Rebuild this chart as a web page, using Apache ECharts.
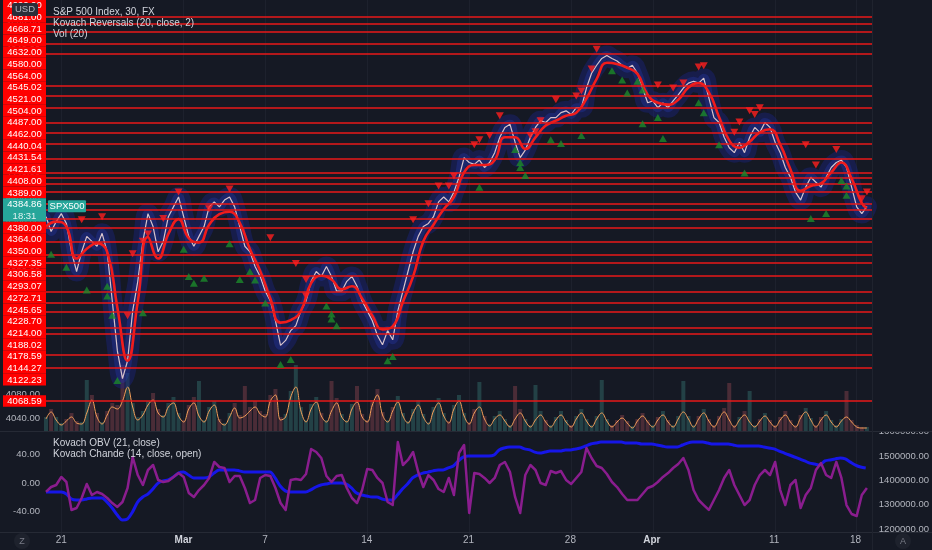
<!DOCTYPE html>
<html><head><meta charset="utf-8">
<script src="https://cdn.jsdelivr.net/npm/echarts@6/dist/echarts.min.js"></script>
<style>html,body{margin:0;padding:0;background:#151924;}#c{width:932px;height:550px;}</style>
</head><body><div id="c"></div>
<script>
// ---------- data ----------
const tradingDays = ['2022-02-18','2022-02-21','2022-02-22','2022-02-23','2022-02-24','2022-02-25',
  '2022-02-28','2022-03-01','2022-03-02','2022-03-03','2022-03-04',
  '2022-03-07','2022-03-08','2022-03-09','2022-03-10','2022-03-11',
  '2022-03-14','2022-03-15','2022-03-16','2022-03-17','2022-03-18',
  '2022-03-21','2022-03-22','2022-03-23','2022-03-24','2022-03-25',
  '2022-03-28','2022-03-29','2022-03-30','2022-03-31','2022-04-01',
  '2022-04-04','2022-04-05','2022-04-06','2022-04-07','2022-04-08',
  '2022-04-11','2022-04-12','2022-04-13','2022-04-14','2022-04-18'];
const slots = ['00:00','06:00','12:00','18:00'];
const tickDates = ['2022-02-21 00:00','2022-03-01 00:00','2022-03-07 00:00','2022-03-14 00:00','2022-03-21 00:00','2022-03-28 00:00','2022-04-01 00:00','2022-04-11 00:00','2022-04-18 00:00'];
const tickTexts = ['21','Mar','7','14','21','28','Apr','11','18'];
const monthTexts = ['Mar','Apr'];

const price = [
4368,4344,4360,4373,4357,4311,4279,4311,4336,4328,
4320,4341,4311,4231,4150,4105,4134,4215,4263,4328,
4373,4352,4311,4328,4368,4384,4400,4368,4336,4320,
4336,4352,4384,4392,4384,4395,4400,4384,4352,4320,
4311,4287,4271,4247,4231,4199,4159,4167,4183,4191,
4215,4231,4263,4279,4271,4287,4271,4247,4247,4263,
4271,4255,4231,4215,4199,4175,4160,4183,4168,4215,
4247,4279,4311,4336,4352,4357,4368,4392,4400,4392,
4408,4432,4464,4456,4453,4460,4448,4456,4472,4497,
4513,4518,4489,4464,4476,4497,4513,4524,4521,4529,
4529,4537,4540,4534,4545,4545,4577,4601,4614,4625,
4630,4625,4621,4614,4609,4614,4601,4577,4553,4556,
4545,4553,4545,4556,4566,4577,4585,4588,4585,4593,
4561,4529,4521,4497,4480,4472,4489,4472,4497,4513,
4505,4521,4513,4489,4472,4448,4432,4408,4395,4416,
4432,4424,4416,4432,4448,4456,4460,4448,4416,4384,
4373,4384.86,null];

// Kovach Reversals line: [bar index, value]
const reversalLine = [[0,4352],[2,4360],[4,4352],[6,4300],[8,4316],[10,4325],[12,4311],[14,4220],[16,4134],
  [18,4230],[20,4335],[22,4300],[24,4340],[26,4364],[28,4333],[30,4326],[32,4355],[34,4372],[36,4376],
  [38,4358],[40,4315],[42,4280],[44,4235],[46,4196],[48,4200],[50,4215],[52,4260],[54,4272],[56,4266],
  [58,4250],[60,4255],[62,4235],[64,4207],[66,4185],[68,4190],[70,4230],[72,4271],[74,4328],[76,4355],
  [78,4380],[80,4400],[82,4440],[84,4452],[86,4452],[88,4460],[90,4497],[92,4497],[94,4478],[96,4497],
  [98,4516],[100,4524],[102,4532],[104,4537],[106,4560],[108,4592],[110,4618],[112,4616],[114,4610],
  [116,4600],[118,4566],[120,4553],[122,4550],[124,4558],[126,4578],[128,4585],[130,4570],[132,4530],
  [134,4492],[136,4480],[138,4490],[140,4505],[142,4510],[144,4485],[146,4445],[148,4410],[150,4418],
  [152,4422],[154,4440],[156,4456],[158,4430],[160,4390],[161,4382]];

const sellSignals = [[7,4363],[11,4368],[16,4207],[17,4308],[19,4328],[20,4340],[23,4365],[26,4408],[32,4381],
  [36,4413],[44,4334],[49,4292],[51,4266],[51,4239],[72,4363],[75,4389],[77,4418],[79,4418],[80,4434],[84,4485],
  [85,4493],[87,4500],[89,4532],[95,4500],[96,4506],[97,4524],[100,4558],[104,4564],[105,4572],[107,4608],
  [108,4640],[120,4582],[123,4577],[125,4585],[128,4611],[129,4613],[135,4505],[136,4522],[138,4540],
  [139,4534],[140,4545],[149,4485],[151,4452],[155,4477],[160,4397],[161,4408]];
const buySignals = [[1,4307],[4,4286],[8,4249],[12,4255],[12,4239],[13,4208],[14,4102],[19,4212],[27,4315],
  [28,4271],[29,4260],[31,4268],[36,4324],[38,4266],[40,4279],[41,4265],[43,4228],[46,4128],[48,4136],
  [55,4223],[56,4210],[56,4202],[57,4191],[67,4134],[68,4141],[85,4416],[92,4477],[93,4456],[93,4448],
  [94,4435],[99,4493],[101,4487],[105,4500],[111,4605],[113,4590],[114,4569],[116,4588],[117,4574],
  [117,4519],[120,4529],[121,4495],[128,4553],[129,4537],[132,4485],[137,4439],[150,4365],[153,4373],
  [156,4427],[157,4418],[157,4403]];

const volume = [
14,22,14,8,12,18,10,9,51,36,
18,9,20,28,26,66,58,28,14,20,
30,38,22,16,28,34,18,11,26,34,
50,11,24,30,12,8,18,28,16,45,
24,30,20,17,36,42,14,17,40,66,
24,11,27,34,18,11,50,33,17,11,
27,45,17,11,31,42,19,11,24,35,
18,10,22,31,17,9,24,33,18,10,
26,36,18,9,22,49,15,7,15,20,
12,6,45,22,12,6,46,20,11,6,
14,20,11,6,15,22,12,6,15,51,
12,6,11,16,10,5,12,18,11,6,
14,20,11,6,15,50,15,6,15,22,
12,6,15,23,48,6,14,20,40,6,
12,18,11,6,14,20,11,6,16,23,
13,6,14,20,11,6,12,40,11,6,
4,4,null];
const volumeMA = [
12,19,11,6,10,14,8,7,18,31,
14,7,16,24,22,30,44,24,11,16,
26,31,18,14,24,28,15,9,22,28,
15,9,20,26,10,6,14,23,13,15,
20,24,17,14,30,36,11,14,34,44,
20,9,22,29,15,9,20,28,14,9,
22,29,14,9,26,36,16,9,20,29,
15,8,18,26,14,7,20,28,15,8,
22,30,15,7,18,24,12,5,12,16,
10,4,12,18,10,4,11,16,9,4,
11,16,9,4,12,18,10,4,12,18,
10,4,9,13,8,3,10,15,9,4,
11,16,9,4,12,19,12,4,12,18,
10,4,12,19,11,4,11,16,9,4,
10,15,9,4,11,16,9,4,13,19,
11,4,11,16,9,4,10,14,9,4,
3,3,null];

const chande = [
-12.5,-5.6,-2.8,8.4,1.4,-37.6,-34.8,-20.9,-1.4,-16.7,
-12.5,-15.3,-20.9,-27.9,-33.4,-26.5,-7,36.2,11.1,-2.8,
18.1,25.1,4.2,1.4,2.8,8.4,13.9,8.4,-13.9,-19.5,
-9.8,-2.8,7,29.3,22.3,20.9,1.4,9.8,9.8,-7,
-27.9,-23.7,7,11.1,9.8,-7,-27.9,-37.6,4.2,5.6,
4.2,12.5,47.4,43.2,34.8,9.8,1.4,9.8,11.1,-7,
-20.9,-27.9,-9.8,19.5,18.1,7,0,-26.5,-30.7,57.1,
25.1,32.1,43.2,15.3,-5.6,11.1,4.2,-8.4,-12.5,7,
-16.7,41.8,53,-41.8,13.9,12.5,7,0,7,25.1,
29.3,15.3,-19.5,-41.8,11.1,25.1,18.1,0,-2.8,16.7,
13.9,16.7,4.2,-1.4,7,15.3,48.8,34.8,23.7,20.9,
12.5,1.4,-5.6,-15.3,-23.7,-23.7,-23.7,-15.3,-7,-4.2,
1.4,8.4,13.9,20.9,26.5,34.8,18.1,-9.8,-23.7,-30.7,
-37.6,-23.7,-9.8,7,18.1,-2.8,-16.7,-30.7,-23.7,-2.8,
11.1,18.1,11.1,29.3,-9.8,-30.7,-2.8,4.2,-34.8,-16.7,
-7,18.1,27.9,11.1,7,29.3,7,-30.7,-43.2,-46,
-16.7,-7,null];
const obv = [
1352000,1352000,1352000,1352000,1344000,1324000,1320000,1320000,1324000,1328000,
1328000,1328000,1311000,1287000,1258000,1238000,1242000,1271000,1311000,1332000,
1344000,1365000,1389000,1398000,1402000,1414000,1430000,1434000,1422000,1410000,
1410000,1410000,1414000,1430000,1443000,1443000,1443000,1443000,1439000,1434000,
1434000,1434000,1434000,1434000,1434000,1410000,1377000,1357000,1352000,1352000,
1352000,1352000,1361000,1373000,1381000,1385000,1389000,1389000,1389000,1385000,
1369000,1348000,1340000,1336000,1332000,1332000,1324000,1320000,1320000,1340000,
1365000,1385000,1410000,1422000,1430000,1434000,1439000,1443000,1443000,1451000,
1459000,1480000,1496000,1500000,1500000,1500000,1500000,1500000,1504000,1525000,
1533000,1537000,1537000,1537000,1529000,1525000,1516000,1512000,1516000,1520000,
1520000,1520000,1525000,1525000,1529000,1533000,1541000,1549000,1553000,1557000,
1557000,1557000,1557000,1557000,1553000,1553000,1553000,1549000,1549000,1549000,
1545000,1541000,1537000,1537000,1537000,1545000,1553000,1557000,1557000,1557000,
1553000,1549000,1549000,1549000,1549000,1545000,1541000,1541000,1541000,1541000,
1541000,1537000,1533000,1529000,1520000,1512000,1504000,1496000,1488000,1480000,
1471000,1467000,1463000,1480000,1484000,1488000,1492000,1488000,1475000,1463000,
1455000,1451000,null];

const levels = [4692.00,4681.00,4668.71,4649.00,4632.00,4580.00,4564.00,4545.02,4521.00,4504.00,4487.00,
  4462.00,4440.04,4431.54,4421.61,4408.00,4389.00,4380.00,4364.00,4350.00,4327.35,4306.58,4293.07,
  4272.71,4245.65,4228.70,4214.00,4188.02,4178.59,4144.27,4122.23,4068.59];
const lastPrice = 4384.86;
const lastCountdown = '18:31';
const symbolName = 'SPX500';
const currency = 'USD';
const legendTop = ['S&P 500 Index, 30, FX','Kovach Reversals (20, close, 2)','Vol (20)'];
const legendBottom = ['Kovach OBV (21, close)','Kovach Chande (14, close, open)'];

// ---------- build ----------
const categories = [];
tradingDays.forEach((d, di) => slots.forEach((s, si) => { if (di === 0 && si === 0) return; categories.push(d + ' ' + s); }));

const BG = '#151924';
const TXT = '#b2b5be';
const FONT = '"Liberation Sans", Arial, sans-serif';
const chart = echarts.init(document.getElementById('c'));
const L = 46, R = 60;
const isTick = (idx, val) => tickDates.indexOf(val) >= 0;
function xAx(i, extra) {
  return Object.assign({ type: 'category', gridIndex: i, data: categories, boundaryGap: false,
    axisLine: { show: false }, axisTick: { show: false }, axisLabel: { show: false }, splitLine: { show: false } }, extra || {});
}
const vsplit = { show: true, interval: isTick, lineStyle: { color: '#1d212d', width: 1 } };
const volColors = volume.map((v, i) => (i > 0 && price[i] != null && price[i - 1] != null && price[i] < price[i - 1])
  ? 'rgba(200,90,100,0.30)' : 'rgba(70,160,150,0.30)');

chart.setOption({
  backgroundColor: BG,
  animation: false,
  textStyle: { fontFamily: FONT },
  grid: [
    { left: L, right: R, top: -3.85, height: 447.1 },
    { left: L, right: R, top: 331, height: 100 },
    { left: L, right: R, top: 425.6, height: 114.8 },
    { left: L, right: R, top: 431.6, height: 97.6 }
  ],
  xAxis: [
    xAx(0, { splitLine: vsplit }),
    xAx(1),
    xAx(2, { splitLine: vsplit }),
    xAx(3, { axisLabel: { show: true, interval: isTick, color: TXT, fontSize: 10, margin: 6,
      formatter: v => { const t = tickTexts[tickDates.indexOf(v)]; return monthTexts.indexOf(t) >= 0 ? '{b|' + t + '}' : t; },
      rich: { b: { fontWeight: 'bold', color: '#d1d4dc', fontSize: 10 } } } })
  ],
  yAxis: [
    { type: 'value', gridIndex: 0, min: 4000, max: 4720, interval: 40, position: 'left',
      axisLine: { show: false }, axisTick: { show: false }, splitLine: { show: false },
      axisLabel: { color: TXT, fontSize: 9.5, margin: 6, showMinLabel: false, showMaxLabel: false, formatter: v => v.toFixed(2) } },
    { type: 'value', gridIndex: 1, min: 0, max: 100, show: false },
    { type: 'value', gridIndex: 2, min: -80, max: 80, interval: 40, position: 'left',
      axisLine: { show: false }, axisTick: { show: false }, splitLine: { show: false },
      axisLabel: { color: TXT, fontSize: 9.5, margin: 6, showMinLabel: false, showMaxLabel: false, formatter: v => v.toFixed(2) } },
    { type: 'value', gridIndex: 3, min: 1200000, max: 1600000, interval: 100000, position: 'right',
      axisLine: { show: false }, axisTick: { show: false }, splitLine: { show: false },
      axisLabel: { color: TXT, fontSize: 9.5, margin: 8, formatter: v => v.toFixed(2) } }
  ],
  series: [
    { type: 'bar', xAxisIndex: 1, yAxisIndex: 1, barWidth: 4, silent: true, z: 1,
      data: volume.map((v, i) => ({ value: v, itemStyle: { color: volColors[i] } })) },
    { type: 'line', xAxisIndex: 1, yAxisIndex: 1, data: volumeMA, symbol: 'none', smooth: 0.4, connectNulls: true,
      lineStyle: { color: '#f5a05a', width: 1 }, silent: true, z: 2 },
    { type: 'line', xAxisIndex: 0, yAxisIndex: 0, data: price, symbol: 'none', smooth: 0.5, silent: true, z: 2,
      lineStyle: { color: 'rgba(26,36,130,0.42)', width: 20, cap: 'round', join: 'round' } },
    { type: 'line', xAxisIndex: 0, yAxisIndex: 0, data: price, symbol: 'none', smooth: 0.4, silent: true, z: 2,
      lineStyle: { color: 'rgba(40,58,185,0.30)', width: 9, cap: 'round', join: 'round' } },
    { type: 'line', xAxisIndex: 0, yAxisIndex: 0, data: price, symbol: 'none', silent: true, z: 3,
      lineStyle: { color: '#d7c3cc', width: 1.2 } },
    { type: 'line', xAxisIndex: 0, yAxisIndex: 0, data: reversalLine, symbol: 'none', smooth: 0.5, silent: true, z: 4,
      lineStyle: { color: '#f01c1c', width: 2.6 },
      markLine: { silent: true, symbol: 'none', label: { show: false }, animation: false,
        lineStyle: { color: '#e81818', width: 1.5, type: 'solid' },
        data: levels.map(v => ({ yAxis: v })) } },
    { type: 'scatter', xAxisIndex: 0, yAxisIndex: 0, data: sellSignals, symbol: 'triangle', symbolRotate: 180,
      symbolSize: [8, 7], itemStyle: { color: '#ff1e1e' }, silent: true, z: 6 },
    { type: 'scatter', xAxisIndex: 0, yAxisIndex: 0, data: buySignals, symbol: 'triangle',
      symbolSize: [8, 7], itemStyle: { color: '#1b8a2b' }, silent: true, z: 6 },
    { type: 'line', xAxisIndex: 3, yAxisIndex: 3, data: obv, symbol: 'none', smooth: 0.3, silent: true, z: 3,
      lineStyle: { color: '#1616e8', width: 3 } },
    { type: 'line', xAxisIndex: 2, yAxisIndex: 2, data: chande, symbol: 'none', silent: true, z: 4,
      lineStyle: { color: '#8a1d8e', width: 2.5, join: 'round' } }
  ]
});

// ---------- price scale labels (stacked like the original) ----------
const H = 11.7;
const yPix = v => chart.convertToPixel({ yAxisIndex: 0 }, v);
const items = levels.map(v => ({ kind: 'level', v, h: H, want: yPix(v) - H / 2 }));
items.push({ kind: 'last', v: lastPrice, h: 2 * H, want: yPix(lastPrice) - H / 2 });
items.sort((a, b) => a.want - b.want);
function place(b) { let off = 0, s = 0; b.items.forEach(it => { s += it.want - off; off += it.h; }); b.h = off; b.top = Math.max(-5, s / b.items.length); }
let blocks = items.map(it => { const b = { items: [it] }; place(b); return b; });
let changed = true;
while (changed) {
  changed = false;
  for (let i = 0; i < blocks.length - 1; i++) {
    if (blocks[i].top + blocks[i].h > blocks[i + 1].top + 0.01) {
      const m = { items: blocks[i].items.concat(blocks[i + 1].items) }; place(m);
      blocks.splice(i, 2, m); changed = true; break;
    }
  }
}
const g = [];
const txt = (x, y, text, fill, size, align, extra) => ({ type: 'text', x, y, z: 102, silent: true,
  style: Object.assign({ text, fill, fontSize: size, fontFamily: FONT, align: align || 'left', verticalAlign: 'middle' }, extra || {}) });
blocks.forEach(b => {
  let off = 0;
  b.items.forEach(it => {
    const top = b.top + off; off += it.h;
    if (it.kind === 'level') {
      g.push({ type: 'rect', z: 101, silent: true, shape: { x: 3, y: top, width: 43, height: H }, style: { fill: '#ff0000' } });
      g.push(txt(24.5, top + H / 2 + 0.5, it.v.toFixed(2), '#ffffff', 9.5, 'center'));
    } else {
      g.push({ type: 'rect', z: 101, silent: true, shape: { x: 3, y: top, width: 43, height: 2 * H }, style: { fill: '#26a69a' } });
      g.push(txt(24.5, top + H / 2 + 0.5, it.v.toFixed(2), '#ffffff', 9.5, 'center'));
      g.push(txt(24.5, top + 1.5 * H + 0.5, lastCountdown, '#e0f2f1', 9.5, 'center'));
    }
  });
});
const yLast = yPix(lastPrice);
g.push({ type: 'rect', z: 101, silent: true, shape: { x: 48, y: yLast - 6, width: 38, height: 12, r: 1 }, style: { fill: '#26a69a' } });
g.push(txt(67, yLast + 0.5, symbolName, '#ffffff', 9.5, 'center'));
// currency tag
g.push({ type: 'rect', z: 103, silent: true, shape: { x: 12, y: 3, width: 26, height: 13, r: 2 }, style: { fill: '#2a2e39' } });
g.push(Object.assign(txt(25, 9.8, currency, TXT, 9.5, 'center'), { z: 104 }));
// legends
legendTop.forEach((t, i) => g.push(txt(53, 12 + i * 11.3, t, '#d1d4dc', 10)));
legendBottom.forEach((t, i) => g.push(txt(53, 443.7 + i * 11, t, '#d1d4dc', 10)));
// pane borders / clipping of right scale
g.push({ type: 'rect', z: 100, silent: true, shape: { x: 873, y: 416, width: 59, height: 15.5 }, style: { fill: BG } });
g.push({ type: 'rect', z: 100, silent: true, shape: { x: 873, y: 532.5, width: 59, height: 18 }, style: { fill: BG } });
g.push({ type: 'line', z: 100, silent: true, shape: { x1: 0, y1: 431.5, x2: 932, y2: 431.5 }, style: { stroke: '#262a35', lineWidth: 1 } });
g.push({ type: 'line', z: 100, silent: true, shape: { x1: 0, y1: 532.5, x2: 932, y2: 532.5 }, style: { stroke: '#262a35', lineWidth: 1 } });
g.push({ type: 'line', z: 100, silent: true, shape: { x1: 872.5, y1: 0, x2: 872.5, y2: 550 }, style: { stroke: '#1f232e', lineWidth: 1 } });
// corner buttons
g.push({ type: 'circle', z: 103, silent: true, shape: { cx: 22, cy: 541, r: 8 }, style: { fill: '#1e222d' } });
g.push(Object.assign(txt(22, 541.5, 'Z', '#787b86', 9, 'center'), { z: 104 }));
g.push({ type: 'circle', z: 103, silent: true, shape: { cx: 903, cy: 541, r: 8 }, style: { fill: '#1e222d' } });
g.push(Object.assign(txt(903, 541.5, 'A', '#787b86', 9, 'center'), { z: 104 }));
chart.setOption({ graphic: g });
</script>
</body></html>
